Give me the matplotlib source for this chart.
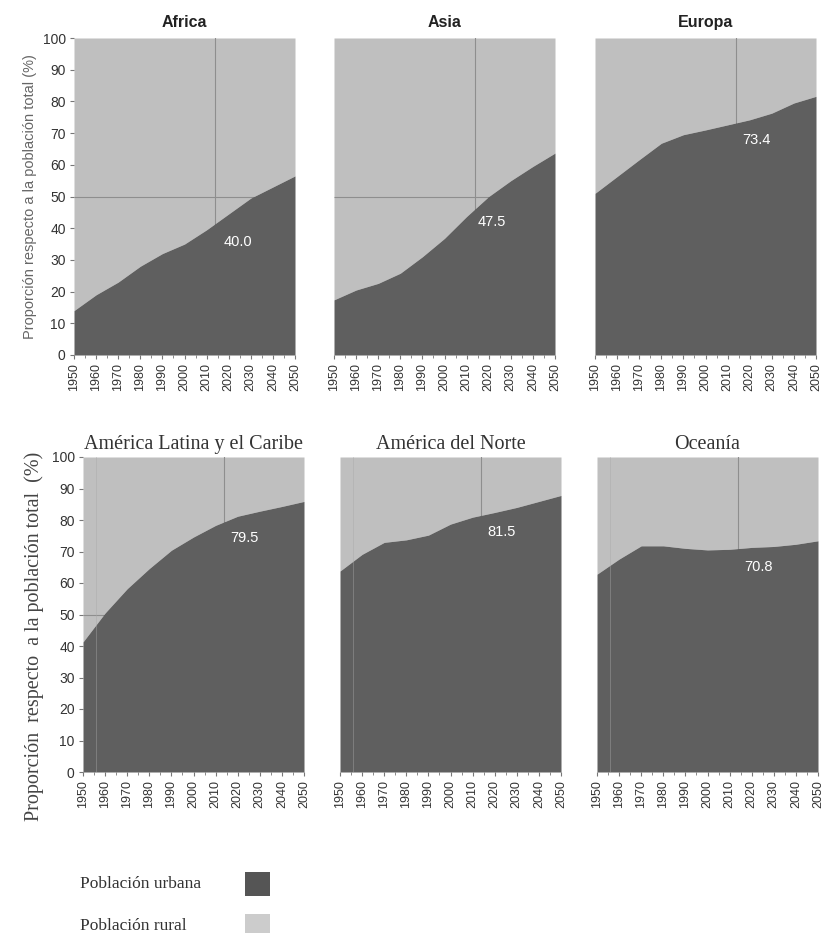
import numpy as np
import matplotlib
matplotlib.use("Agg")
import matplotlib.pyplot as plt
from matplotlib.patches import Rectangle

years = np.arange(1950, 2051, 10)

# share of urban population (%)
africa = [14.0, 19.0, 23.0, 28.0, 32.0, 35.0, 39.5, 44.5, 49.5, 53.0, 56.5]
asia = [17.4, 20.5, 22.6, 25.8, 31.0, 36.8, 43.7, 50.0, 55.0, 59.5, 63.7]
europa = [51.0, 56.3, 61.6, 66.8, 69.5, 71.0, 72.6, 74.2, 76.3, 79.5, 81.6]
latam = [41.3, 50.5, 58.2, 64.6, 70.4, 74.6, 78.3, 81.2, 82.8, 84.3, 85.9]
norte = [63.8, 69.1, 72.9, 73.7, 75.2, 78.7, 80.9, 82.4, 84.0, 85.9, 87.8]
oceania = [62.8, 67.6, 71.8, 71.8, 71.0, 70.5, 70.7, 71.3, 71.6, 72.3, 73.4]

top_regions = ["Africa", "Asia", "Europa"]
bottom_regions = ["América Latina y el Caribe", "América del Norte", "Oceanía"]
series = [africa, asia, europa, latam, norte, oceania]

# 2014 urban share, shown inside each panel
labels_2014 = ["40.0", "47.5", "73.4", "79.5", "81.5", "70.8"]
label_pos = [(2024, 35.6), (2021.5, 42), (2023, 67.8), (2023, 74.3), (2023, 76.2), (2023, 65.0)]

URBAN = "#5f5f5f"
RURAL = "#bfbfbf"
LINE = "#8e8e8e"
SANS = "Liberation Sans"
SERIF = "Liberation Serif"

fig = plt.figure(figsize=(8.23, 9.33), dpi=100)

W, H = 823.0, 933.0
top_lefts = [74, 334, 595]
bot_lefts = [83, 340, 597]
rects = [(l / W, 1 - 355 / H, 221 / W, 317 / H) for l in top_lefts] + \
        [(l / W, 1 - 772 / H, 221 / W, 315 / H) for l in bot_lefts]

titles = top_regions + bottom_regions
axes = []
for i, (rect, vals) in enumerate(zip(rects, series)):
    ax = fig.add_axes(rect)
    axes.append(ax)
    top = i < 3
    ax.fill_between(years, vals, 100, color=RURAL, lw=0, zorder=1)
    if vals[0] < 50:
        ax.hlines(50, 1950, 2050, color=LINE, lw=0.8, zorder=2)
    ax.axvline(2014, color=LINE, lw=0.8, zorder=2)
    ax.fill_between(years, 0, vals, color=URBAN, lw=0, zorder=3)
    if not top:
        ax.axvline(1956, color="#a8a8a8", lw=0.6, alpha=0.5, zorder=4)
    ax.set_xlim(1950, 2050)
    ax.set_ylim(0, 100)
    for s in ax.spines.values():
        s.set_visible(False)
    ax.set_xticks(years)
    ax.set_xticks(np.arange(1955, 2050, 10), minor=True)
    ax.set_xticklabels([str(y) for y in years], rotation=90,
                       fontsize=9, family=SANS, color="#333333")
    ax.tick_params(axis="x", which="both", length=3, color="#777777", pad=3)
    ax.tick_params(axis="x", which="minor", length=2)
    if i % 3 == 0:
        ax.set_yticks(np.arange(0, 101, 10))
        ax.set_yticklabels([str(v) for v in range(0, 101, 10)], fontsize=10,
                           family=SANS, color="#333333")
        ax.tick_params(axis="y", length=3, color="#777777", pad=3)
    else:
        ax.set_yticks([])
    if top:
        ax.set_title(titles[i], fontsize=11.5, fontweight="bold", family=SANS,
                     pad=8, color="#222222")
    else:
        ax.set_title(titles[i], fontsize=14.5, family=SERIF, pad=6, color="#333333")
    lx, ly = label_pos[i]
    ax.text(lx, ly, labels_2014[i], color="white", fontsize=10.5, family=SANS,
            ha="center", va="center", zorder=5)

axes[0].set_ylabel("Proporción respecto a la población total (%)", fontsize=10.5,
                   family=SANS, color="#666666", labelpad=4)
axes[3].set_ylabel("Proporción  respecto  a la población total  (%)", fontsize=14.5,
                   family=SERIF, color="#444444")
axes[3].yaxis.set_label_coords(-0.175, 0.43)

# legend: text on the left, swatch on the right
legend_items = [("Población urbana", "#555555"), ("Población rural", "#cccccc")]
for k, (name, col) in enumerate(legend_items):
    yc = 884 + 42 * k
    fig.text(80 / W, 1 - yc / H, name, family=SERIF, fontsize=12.5,
             ha="left", va="center", color="#333333")
    fig.add_artist(Rectangle((245 / W, 1 - (yc + 12) / H), 25 / W, 24 / H,
                             transform=fig.transFigure, facecolor=col,
                             edgecolor="none"))

fig.savefig("out.png", dpi=100)
